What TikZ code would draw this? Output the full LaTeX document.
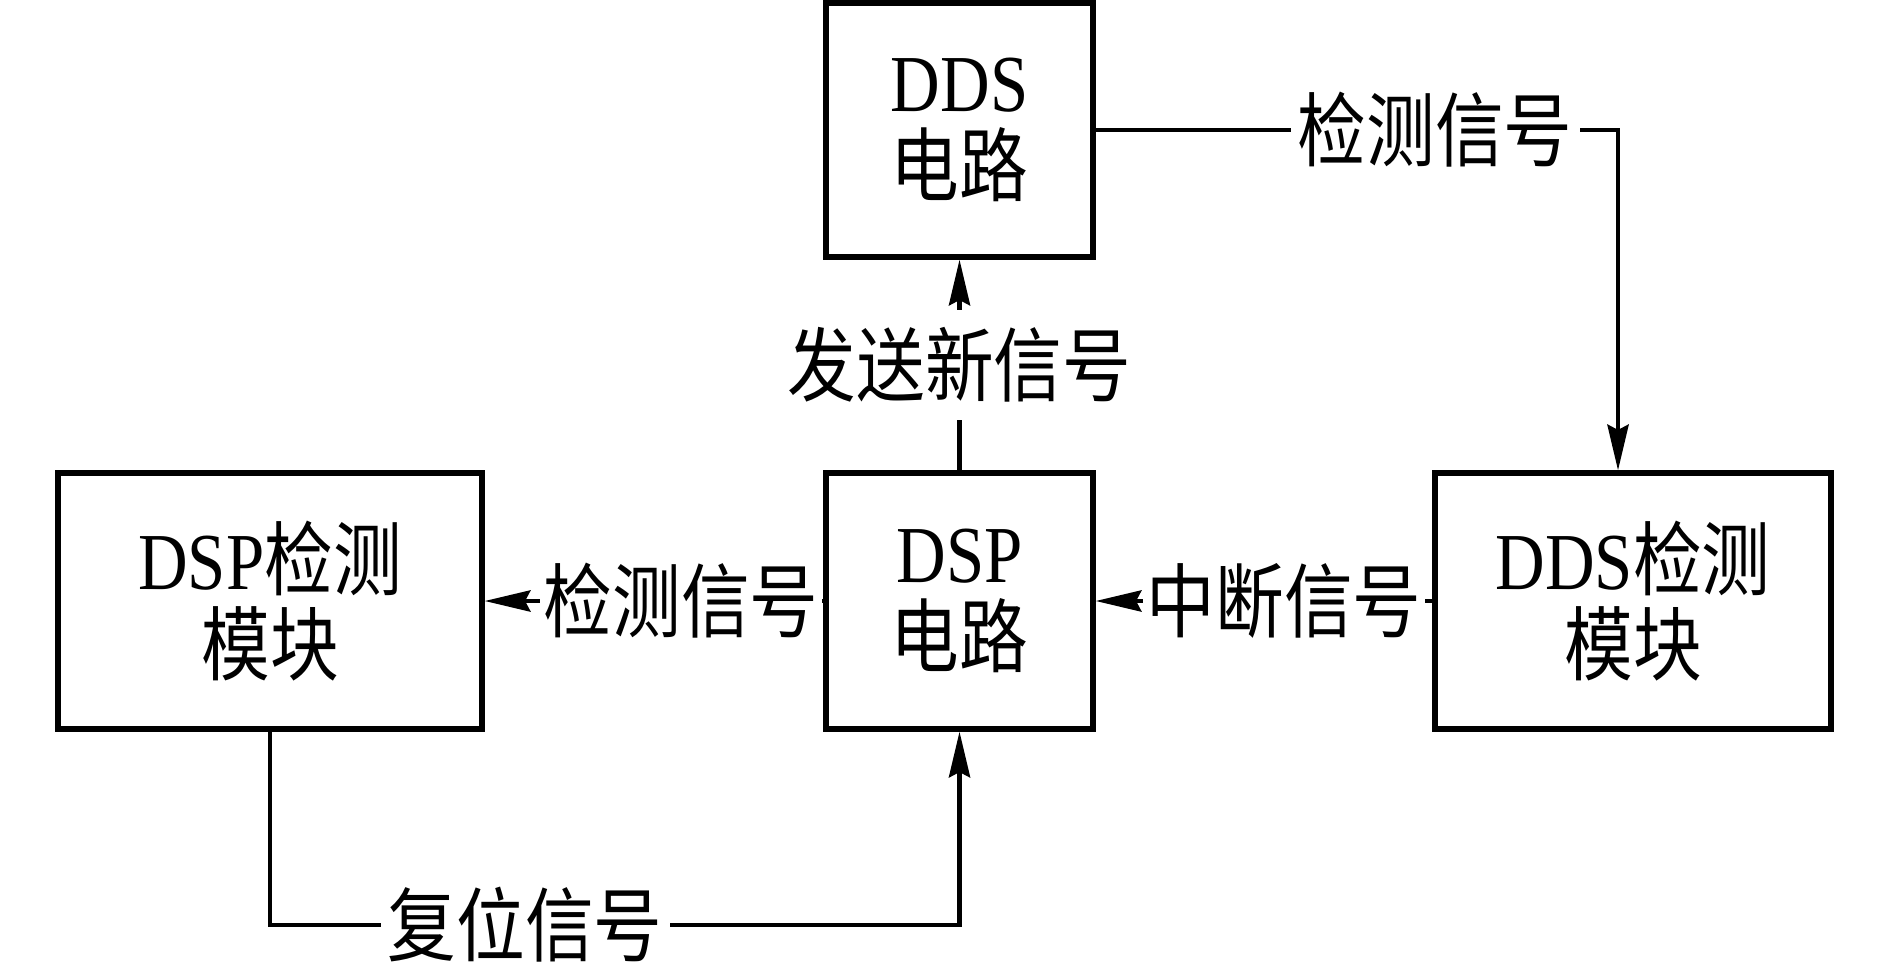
\documentclass[tikz,border=0pt]{standalone}
\usepackage{fontspec}
\setmainfont{Liberation Serif}[FakeStretch=0.85]
\newfontfamily\cjk{Noto Sans CJK SC}[FakeStretch=0.85]
\usetikzlibrary{arrows.meta}
\newcommand{\zh}[1]{{\cjk #1}}

\begin{document}
\begin{tikzpicture}[line join=miter,
  every node/.style={font=\fontsize{23}{24}\selectfont},
  box/.style={draw,line width=1.5pt,minimum height=2.56cm,align=center,inner sep=0pt},
  sig/.style={line width=1.3pt,-{Stealth[length=13pt,width=6pt,inset=1.5pt]}},
  lab/.style={fill=white,inner sep=2pt}]
  \useasboundingbox (0,0) rectangle (18.89,-9.73);
  % blocks
  \node[box,minimum width=2.67cm,minimum height=2.54cm] (dds) at (9.595,-1.30) {DDS\\\zh{电路}};
  \node[box,minimum width=2.67cm] (dsp) at (9.595,-6.01) {DSP\\\zh{电路}};
  \node[box,minimum width=4.24cm] (dspdet) at (2.70,-6.01) {DSP\zh{检测}\\\zh{模块}};
  \node[box,minimum width=3.96cm] (ddsdet) at (16.33,-6.01) {DDS\zh{检测}\\\zh{模块}};
  % bends
  \coordinate (c1) at (16.18,-1.30);
  \coordinate (c2) at (2.70,-9.25);\coordinate (c3) at (9.595,-9.25);
  % signals
  \draw[sig] (dsp.north) -- node[lab,inner sep=5pt]{\zh{发送新信号}} (dds.south);
  \draw[sig] (dds.east) -- node[lab,pos=0.65]{\zh{检测信号}} (c1) -- (c1 |- ddsdet.north);
  \draw[sig] (dsp.west) -- node[lab,pos=0.42,inner sep=1pt]{\zh{检测信号}} (dspdet.east);
  \draw[sig] (ddsdet.west) -- node[lab,pos=0.44,inner sep=1pt]{\zh{中断信号}} (dsp.east);
  \draw[sig] (dspdet.south) -- (c2) -- node[lab,pos=0.37]{\zh{复位信号}} (c3) -- (dsp.south);
\end{tikzpicture}
\end{document}
